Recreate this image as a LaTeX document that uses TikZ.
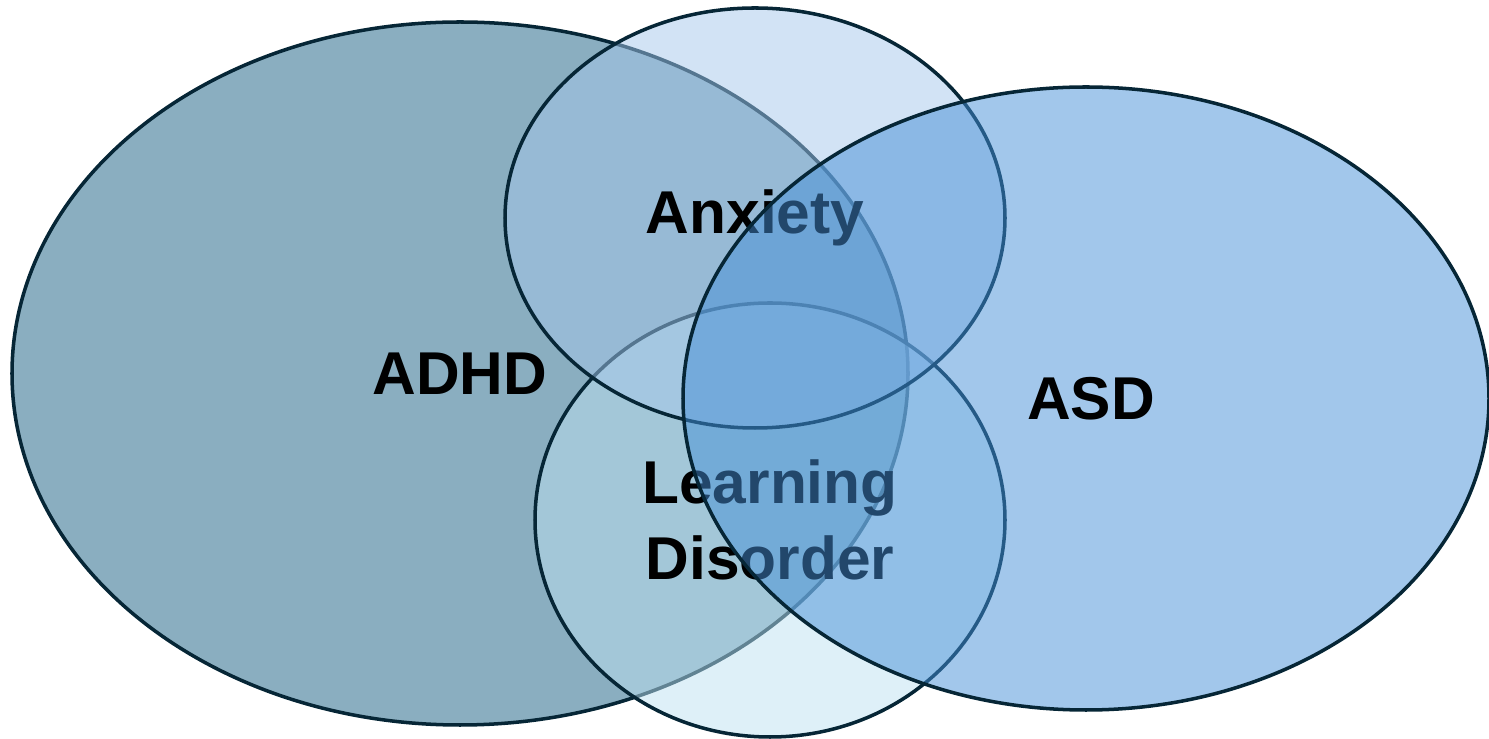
\documentclass[tikz,border=0pt]{standalone}
\usepackage{fontspec}
\setmainfont{Liberation Sans}
\usetikzlibrary{shapes.geometric}

\definecolor{rim}{HTML}{062636}
\definecolor{adhdfill}{HTML}{155D81}
\definecolor{anxfill}{HTML}{A5C7EB}
\definecolor{ldfill}{HTML}{BDE1F1}
\definecolor{asdfill}{HTML}{458FD7}

\tikzset{
  venn/.style={ellipse, draw=rim, line width=1pt, inner sep=0pt, outer sep=0pt,
    fill opacity=0.5, text opacity=1, align=center,
    font=\fontsize{17.2}{21.5}\selectfont\bfseries},
}

\begin{document}
\begin{tikzpicture}
		\useasboundingbox (0,0) rectangle (14.89,7.39);
		% sets, back to front
		\node[venn, fill=adhdfill, minimum width=8.96cm, minimum height=7.03cm] (adhd) at (4.60, 3.655) {ADHD};
		\node[venn, fill=ldfill, minimum width=4.70cm, minimum height=4.34cm] (ld) at (7.70, 2.19) {Learning\\Disorder};
		\node[venn, fill=anxfill, minimum width=5.00cm, minimum height=4.20cm] (anx) at (7.55, 5.21) {Anxiety};
		\node[venn, fill=asdfill, minimum width=8.06cm, minimum height=6.23cm] (asd) at (10.86, 3.405) {\hspace{0.1cm}ASD};
\end{tikzpicture}
\end{document}
